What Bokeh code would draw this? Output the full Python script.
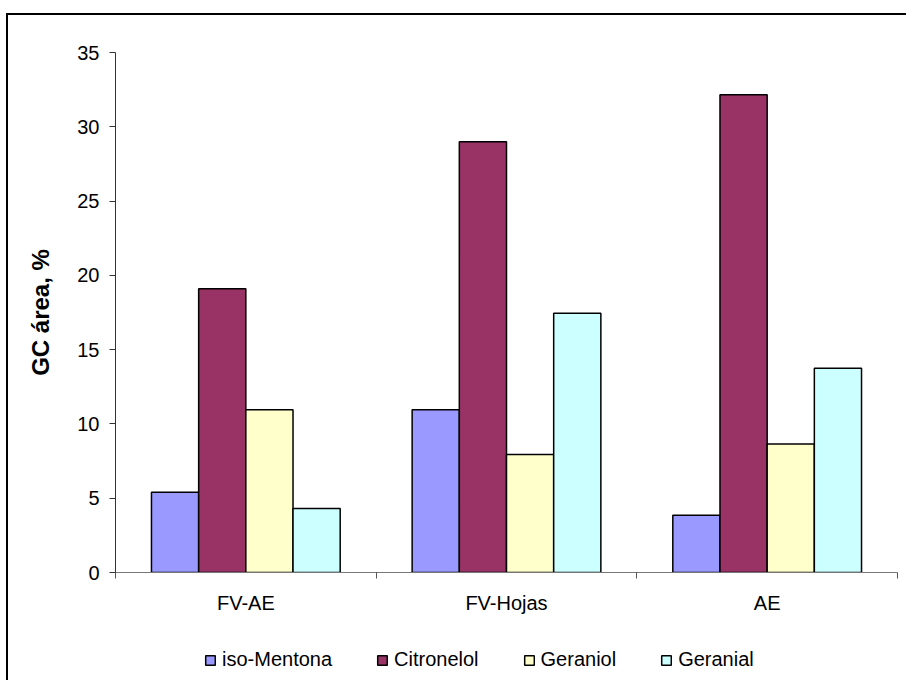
from bokeh.plotting import figure
from bokeh.layouts import column
from bokeh.models import (ColumnDataSource, Range1d, FixedTicker, Legend,
                          LegendItem, BoxAnnotation)
from bokeh.transform import dodge
from bokeh.embed import file_html
from bokeh.resources import INLINE

# Sample groups and compound areas (GC area, %)
categories = ["FV-AE", "FV-Hojas", "AE"]
series_names = ["iso-Mentona", "Citronelol", "Geraniol", "Geranial"]
iso_mentona = [5.4, 10.95, 3.85]
citronelol = [19.1, 29.0, 32.15]
geraniol = [10.95, 7.95, 8.65]
geranial = [4.3, 17.45, 13.75]
y_ticks = [0, 5, 10, 15, 20, 25, 30, 35]

colors = ["#9999FF", "#993366", "#FFFFCC", "#CCFFFF"]
fields = ["iso_mentona", "citronelol", "geraniol", "geranial"]
FONT = "Liberation Sans"

source = ColumnDataSource(dict(
    xc=[i + 0.5 for i in range(len(categories))],
    iso_mentona=iso_mentona,
    citronelol=citronelol,
    geraniol=geraniol,
    geranial=geranial,
))

p = figure(width=898, height=620,
           x_range=Range1d(0, len(categories)), y_range=Range1d(0, 35),
           output_backend="svg", toolbar_location=None,
           min_border_left=107, min_border_right=9,
           min_border_top=37, min_border_bottom=63)
p.outline_line_color = None
p.xgrid.visible = False
p.ygrid.visible = False

bar_w = 0.181
bar_style = dict(line_color="black", line_width=1.5)
for j, (fld, col) in enumerate(zip(fields, colors)):
    p.vbar(x=dodge("xc", (j - 1.5) * bar_w, range=p.x_range), top=fld,
           width=bar_w, bottom=0, source=source, fill_color=col, **bar_style)

# y axis
ya = p.yaxis[0]
ya.ticker = FixedTicker(ticks=y_ticks, minor_ticks=[])
ya.major_tick_out = 6
ya.major_tick_in = 0
ya.minor_tick_out = 0
ya.minor_tick_in = 0
ya.axis_line_color = "#333333"
ya.major_tick_line_color = "#333333"
ya.major_label_text_font = FONT
ya.major_label_text_font_size = "20px"
ya.major_label_text_color = "black"
ya.major_label_standoff = 10
ya.axis_label = "GC área, %"
ya.axis_label_text_font = FONT
ya.axis_label_text_font_style = "bold"
ya.axis_label_text_font_size = "24px"
ya.axis_label_text_color = "black"
ya.axis_label_standoff = 20

# x axis: labels at group centers, tick marks at group boundaries
xa = p.xaxis[0]
xa.ticker = FixedTicker(ticks=[i + 0.5 for i in range(len(categories))],
                        minor_ticks=list(range(len(categories) + 1)))
xa.major_label_overrides = {i + 0.5: c for i, c in enumerate(categories)}
xa.major_tick_out = 0
xa.major_tick_in = 0
xa.minor_tick_out = 6
xa.minor_tick_in = 0
xa.axis_line_color = "#777777"
xa.minor_tick_line_color = "#555555"
xa.major_label_text_font = FONT
xa.major_label_text_font_size = "20px"
xa.major_label_text_color = "black"
xa.major_label_standoff = 13

# legend strip underneath the chart; its bar renderers share the data
# source but lie outside the strip's y range, so only the swatches show
lg = figure(width=898, height=45, x_range=Range1d(0, len(categories)),
            y_range=Range1d(1000, 1001),
            output_backend="svg", toolbar_location=None,
            x_axis_location=None, y_axis_location=None,
            min_border=0)
lg.outline_line_color = None
lg.xgrid.visible = False
lg.ygrid.visible = False
swatches = [lg.vbar(x=dodge("xc", (j - 1.5) * bar_w, range=lg.x_range), top=fld,
                    width=bar_w, bottom=0, source=source, fill_color=col,
                    **bar_style)
            for j, (fld, col) in enumerate(zip(fields, colors))]

# plain white backing for the legend strip
lg.add_layout(BoxAnnotation(fill_color="white", fill_alpha=1.0,
                            line_alpha=0, level="annotation"))

legend = Legend(
    items=[LegendItem(label=n, renderers=[r]) for n, r in zip(series_names, swatches)],
    orientation="horizontal", location=(89, 9),
    padding=0, margin=0, spacing=44,
    glyph_width=12, glyph_height=12, label_standoff=6, label_height=20,
    label_text_font=FONT, label_text_font_size="20px",
    label_text_color="black",
    border_line_alpha=0, background_fill_alpha=0,
)
lg.add_layout(legend, "center")

# chart-area border: left and top edges fall inside the window
chart = column(p, lg, spacing=0, margin=(13, 0, 0, 6),
               styles={"border-top": "2px solid black",
                       "border-left": "2px solid black"})

open("out.html", "w").write(file_html(chart, INLINE))
